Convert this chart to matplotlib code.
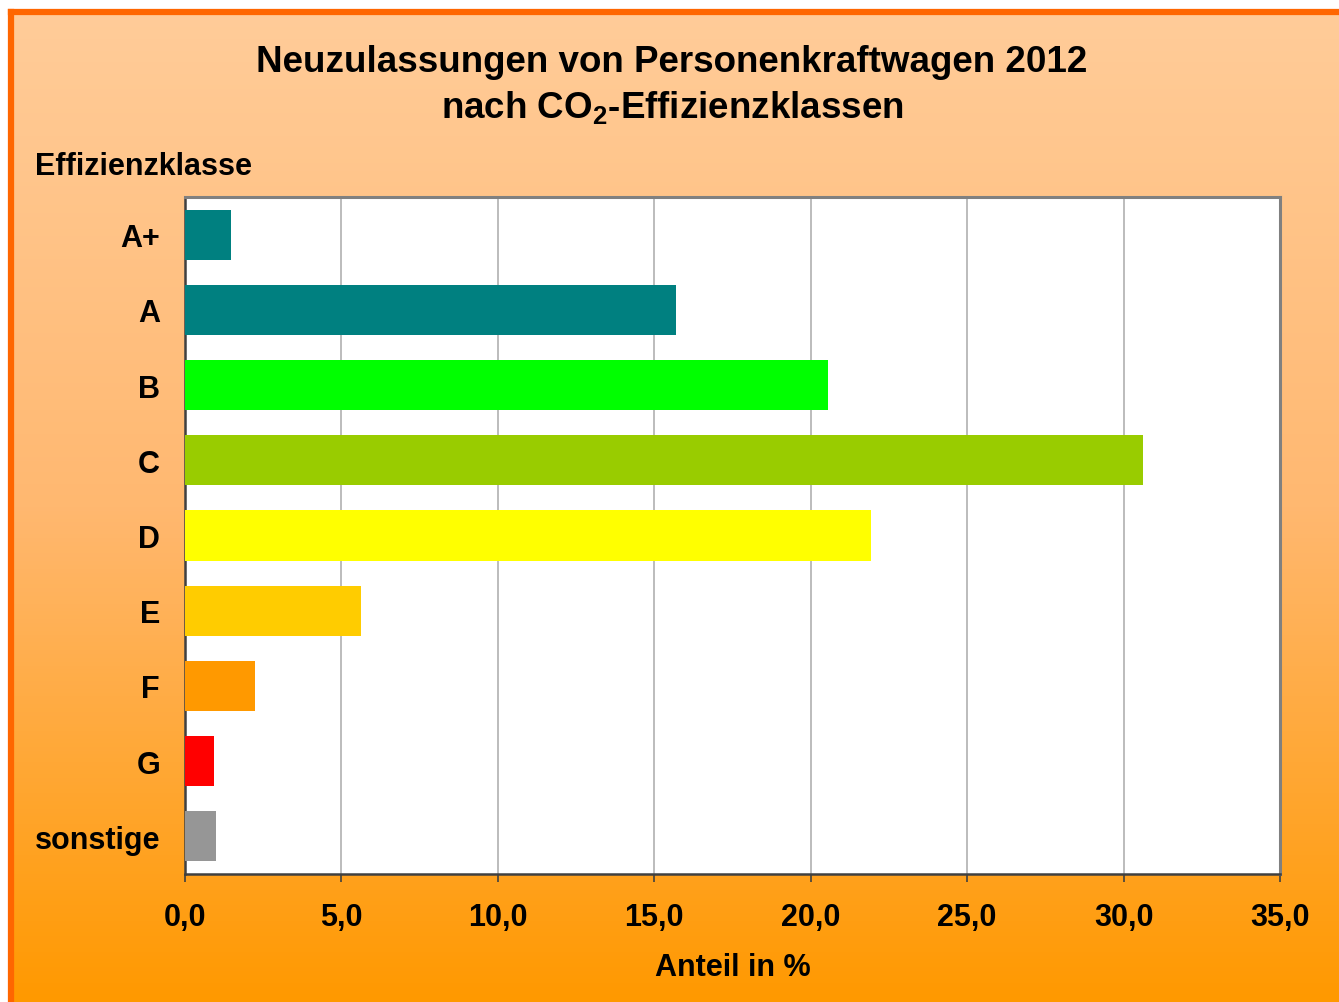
import numpy as np
import matplotlib
matplotlib.use("Agg")
import matplotlib.pyplot as plt
from matplotlib.colors import LinearSegmentedColormap

plt.rcParams['font.family'] = ['Liberation Sans', 'DejaVu Sans']
plt.rcParams['font.weight'] = 'bold'

# ---- data ----
klassen = ['A+', 'A', 'B', 'C', 'D', 'E', 'F', 'G', 'sonstige']
anteil = [1.47, 15.7, 20.55, 30.62, 21.92, 5.62, 2.24, 0.93, 0.99]
farben = ['#008080', '#008080', '#00FF00', '#99CC00', '#FFFF00',
          '#FFCC00', '#FF9900', '#FF0000', '#969696']
xticks = [0, 5, 10, 15, 20, 25, 30, 35]

W, H = 1339, 1003
fig = plt.figure(figsize=(W / 100, H / 100), dpi=100, facecolor='white')

# gradient background with orange border (top + left)
bg = fig.add_axes([11 / W, 0, 1 - 11 / W, 1 - 13 / H], zorder=-10)
cmap = LinearSegmentedColormap.from_list('bg', ['#FFCC99', '#FFB870', '#FF9900'])
grad = np.linspace(0, 1, 256).reshape(-1, 1)
bg.imshow(grad, aspect='auto', cmap=cmap, extent=[0, 1, 0, 1], origin='upper')
bg.set_xlim(0, 1)
bg.set_ylim(0, 1)
bg.set_xticks([])
bg.set_yticks([])
for s in ['right', 'bottom']:
    bg.spines[s].set_visible(False)
for s in ['left', 'top']:
    bg.spines[s].set_color('#FF6600')
    bg.spines[s].set_linewidth(4.5)

# main plot
ax = fig.add_axes([185 / W, 1 - 875 / H, (1280 - 185) / W, (875 - 198) / H])
ax.set_facecolor('white')
y = np.arange(len(klassen))
ax.barh(y, anteil, height=0.665, color=farben, zorder=3)
ax.set_ylim(len(klassen) - 0.5, -0.5)
ax.set_xlim(0, 35)
ax.set_yticks(y)
ax.set_yticklabels(klassen, fontsize=22, fontweight='bold')
ax.tick_params(axis='y', length=0, pad=18)
ax.set_xticks(xticks)
ax.set_xticklabels([('%.1f' % v).replace('.', ',') for v in xticks],
                   fontsize=22, fontweight='bold')
ax.xaxis.set_tick_params(length=6, width=1.2, color='#404040', direction='out', pad=14)
ax.grid(axis='x', color='#B0B0B0', linewidth=1.2, zorder=0)
ax.set_axisbelow(True)
for s in ['left', 'bottom']:
    ax.spines[s].set_color('#404040')
    ax.spines[s].set_linewidth(1.8)
for s in ['top', 'right']:
    ax.spines[s].set_color('#808080')
    ax.spines[s].set_linewidth(2.2)

fig.text(672 / W, 1 - 63 / H, 'Neuzulassungen von Personenkraftwagen 2012',
         ha='center', va='center', fontsize=26.5, fontweight='bold')
fig.text(672 / W, 1 - 108 / H, r'nach CO$\mathregular{_2}$-Effizienzklassen',
         ha='center', va='center', fontsize=26.5, fontweight='bold')
fig.text(35 / W, 1 - 167 / H, 'Effizienzklasse', ha='left', va='center',
         fontsize=22, fontweight='bold')
fig.text(733 / W, 1 - 968 / H, 'Anteil in %', ha='center', va='center',
         fontsize=22, fontweight='bold')

fig.savefig('out.png', dpi=100, facecolor=fig.get_facecolor())
